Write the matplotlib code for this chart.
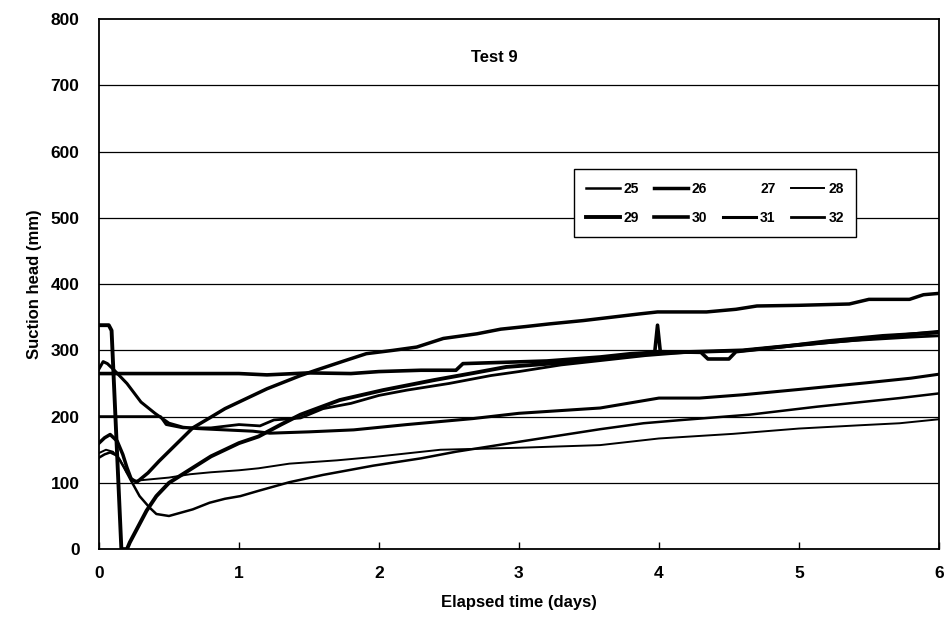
import numpy as np
import matplotlib as mpl
import matplotlib.pyplot as plt

plt.rcParams['font.family'] = ['Liberation Sans', 'DejaVu Sans']
plt.rcParams['font.weight'] = 'bold'

# sensor readings (time in days, suction head in mm)
t25 = [0, 0.04, 0.08, 0.13, 0.18, 0.23, 0.29, 0.36, 0.41, 0.5, 0.67, 0.79, 0.9, 1.01, 1.14,
       1.36, 1.6, 1.96, 2.3, 2.55, 3.0, 3.58, 3.89, 4.17, 4.65, 5.13, 5.72, 6.0]
h25 = [138, 143, 146, 141, 123, 103, 80, 63, 53, 50, 60, 70, 76, 80, 88,
       101, 112, 126, 137, 147, 162, 181, 190, 195, 203, 215, 228, 235]

t26 = [0, 0.04, 0.08, 0.13, 0.17, 0.2, 0.23, 0.27, 0.35, 0.43, 0.55, 0.67, 0.79, 0.9, 1.02,
       1.2, 1.44, 1.55, 1.75, 1.91, 2.1, 2.27, 2.46, 2.7, 2.87, 3.05, 3.22, 3.46, 3.86, 3.99,
       4.34, 4.55, 4.7, 5.0, 5.36, 5.5, 5.79, 5.89, 6.0]
h26 = [160, 168, 173, 163, 143, 123, 106, 101, 115, 133, 158, 183, 198, 212, 224,
       242, 262, 270, 284, 295, 300, 305, 318, 325, 332, 336, 340, 345, 355, 358,
       358, 362, 367, 368, 370, 377, 377, 384, 386]

t27 = []
h27 = []

t28 = [0, 0.05, 0.1, 0.15, 0.2, 0.25, 0.35, 0.5, 0.65, 0.8, 1.0, 1.14, 1.36, 1.7, 1.96,
       2.44, 3.0, 3.58, 4.0, 4.53, 5.0, 5.44, 5.72, 6.0]
h28 = [145, 150, 147, 135, 115, 103, 105, 108, 113, 116, 119, 122, 129, 134, 139,
       150, 153, 157, 167, 174, 182, 187, 190, 196]

t29 = [0, 0.07, 0.09, 0.16, 0.2, 0.22, 0.27, 0.34, 0.41, 0.5, 0.62, 0.8, 1.0, 1.14, 1.3,
       1.44, 1.72, 2.03, 2.39, 2.68, 2.91, 3.22, 3.46, 3.79, 3.93, 4.29, 4.6, 4.89, 5.24,
       5.6, 6.0]
h29 = [338, 338, 330, 0, 0, 10, 30, 58, 80, 100, 116, 140, 160, 170, 188,
       203, 225, 240, 255, 266, 275, 280, 284, 292, 296, 298, 300, 306, 313,
       320, 328]

t30 = [0, 0.5, 1.0, 1.2, 1.5, 1.8, 2.0, 2.3, 2.55, 2.6, 2.9, 3.2, 3.58, 3.8, 3.97, 3.99,
       4.01, 4.3, 4.35, 4.5, 4.55, 4.9, 5.2, 5.6, 6.0]
h30 = [265, 265, 265, 263, 266, 265, 268, 270, 270, 280, 282, 284, 290, 295, 297, 338,
       298, 297, 287, 287, 298, 306, 314, 322, 327]

t31 = [0, 0.03, 0.06, 0.1, 0.2, 0.3, 0.4, 0.5, 0.6, 0.7, 0.9, 1.1, 1.22, 1.5, 1.82, 2.2,
       2.67, 3.0, 3.58, 4.0, 4.29, 4.6, 5.0, 5.48, 5.8, 6.0]
h31 = [272, 283, 280, 272, 250, 222, 205, 190, 184, 182, 180, 178, 175, 177, 180, 188,
       197, 205, 213, 228, 228, 233, 241, 251, 258, 264]

t32 = [0, 0.2, 0.44, 0.48, 0.6, 0.8, 1.0, 1.15, 1.25, 1.44, 1.6, 1.8, 2.0, 2.2, 2.5, 2.8,
       3.0, 3.3, 3.6, 3.9, 4.2, 4.6, 5.0, 5.4, 5.8, 6.0]
h32 = [200, 200, 200, 188, 183, 183, 188, 186, 195, 198, 212, 220, 232, 240, 250, 262,
       268, 278, 285, 292, 297, 300, 308, 315, 320, 322]

fig = plt.figure(figsize=(9.48, 6.29), dpi=100)
ax = fig.add_axes([0.1044, 0.127, 0.886, 0.8426])

# gridlines first so the data sits on top
for y in range(100, 800, 100):
    ax.axhline(y, color='black', lw=0.9, zorder=1)

lines = {}
lines['25'] = ax.plot(t25, h25, color='black', lw=1.8, label='25')[0]
lines['26'] = ax.plot(t26, h26, color='black', lw=2.5, label='26')[0]
lines['27'] = ax.plot(t27, h27, color='none', lw=1.5, label='27')[0]
lines['28'] = ax.plot(t28, h28, color='black', lw=1.4, label='28')[0]
lines['29'] = ax.plot(t29, h29, color='black', lw=2.8, label='29')[0]
lines['30'] = ax.plot(t30, h30, color='black', lw=2.6, label='30')[0]
lines['31'] = ax.plot(t31, h31, color='black', lw=2.2, label='31')[0]
lines['32'] = ax.plot(t32, h32, color='black', lw=2.0, label='32')[0]

ax.set_xlim(0, 6)
ax.set_ylim(0, 800)
ax.set_xticks(range(0, 7))
ax.set_yticks(range(0, 900, 100))
ax.tick_params(axis='x', direction='in', length=5, width=1, labelsize=12.5, pad=12)
ax.tick_params(axis='y', length=0, labelsize=12.5, pad=14)
for lbl in ax.get_xticklabels() + ax.get_yticklabels():
    lbl.set_fontweight('bold')
for sp in ax.spines.values():
    sp.set_linewidth(1.3)

ax.set_xlabel('Elapsed time (days)', fontsize=12, fontweight='bold', labelpad=10)
ax.set_ylabel('Suction head (mm)', fontsize=12, fontweight='bold', labelpad=6)
ax.text(0.471, 0.928, 'Test 9', transform=ax.transAxes, ha='center', va='center',
        fontsize=12, fontweight='bold')

# legend filled row by row: 25 26 27 28 / 29 30 31 32
order = ['25', '29', '26', '30', '27', '31', '28', '32']
leg = ax.legend([lines[k] for k in order], order, ncol=4, loc='upper left',
                bbox_to_anchor=(0.557, 0.73), frameon=True, fancybox=False,
                edgecolor='black', framealpha=1, handlelength=2.4, handletextpad=0.3,
                columnspacing=1.1, labelspacing=1.1, borderpad=0.9,
                prop={'weight': 'bold', 'size': 10})
leg.get_frame().set_linewidth(1.0)

plt.savefig('out.png', dpi=100)
